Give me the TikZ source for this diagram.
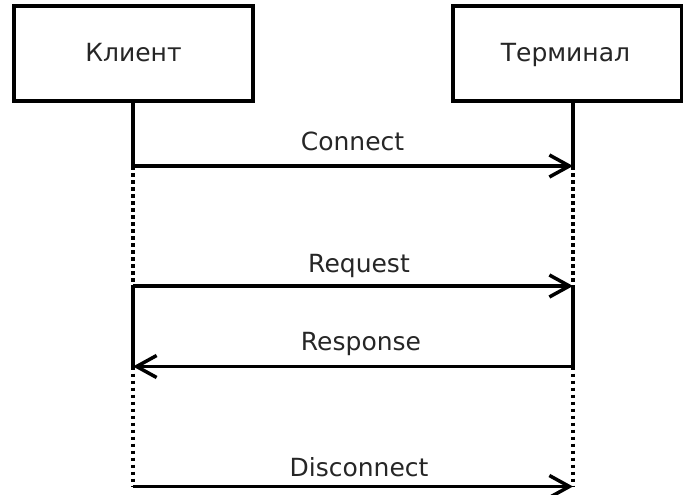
\documentclass[tikz,border=0pt]{standalone}
\usepackage{fontspec}
\setmainfont{DejaVu Sans}
\usetikzlibrary{arrows.meta}
\begin{document}
\begin{tikzpicture}[x=1pt,y=-1pt,
  actor/.style={draw=black, line width=3.8pt, fill=white, inner sep=0pt},
  lbl/.style={anchor=base, inner sep=0pt, font=\fontsize{25}{29}\selectfont, text=black!85},
  msg/.style={line width=3.5pt, -{Straight Barb[length=20pt,width=22pt]}},
  life/.style={line width=3.5pt},
  idle/.style={line width=3.5pt, dash pattern=on 3.5pt off 3.5pt}]
\useasboundingbox (0,0) rectangle (683,495);
\node[actor, minimum width=239pt, minimum height=95pt] (client) at (133.5,53.5) {};
\node[lbl] (clientT) at (133.5,62) {Клиент};
\node[actor, minimum width=228.5pt, minimum height=95pt] (term) at (567.25,53.5) {};
\node[lbl] (termT) at (565.5,62) {Терминал};
\coordinate (c0) at (133,101);
\coordinate (t0) at (573,101);
\coordinate (c1) at (133,166);
\coordinate (t1) at (573,166);
\coordinate (c2) at (133,286);
\coordinate (t2) at (573,286);
\coordinate (c3) at (133,366.5);
\coordinate (t3) at (573,366.5);
\coordinate (c4) at (133,486.5);
\coordinate (t4) at (573,486.5);
\draw[life] (c0) -- (c1);
\draw[life] (t0) -- (t1);
\draw[idle] (c1) -- (c2);
\draw[idle] (t1) -- (t2);
\draw[life] (c2) -- (c3);
\draw[life] (t2) -- (t3);
\draw[idle] (c3) -- (c4);
\draw[idle] (t3) -- (t4);
\draw[msg] (c1) -- (t1);
\draw[msg] (c2) -- (t2);
\draw[msg] (t3) -- (c3);
\draw[msg] (c4) -- (t4);
\node[lbl] (l1) at (352.5,150.7) {Connect};
\node[lbl] (l2) at (359,272.7) {Request};
\node[lbl] (l3) at (361,350.7) {Response};
\node[lbl] (l4) at (359,476) {Disconnect};
\end{tikzpicture}
\end{document}
